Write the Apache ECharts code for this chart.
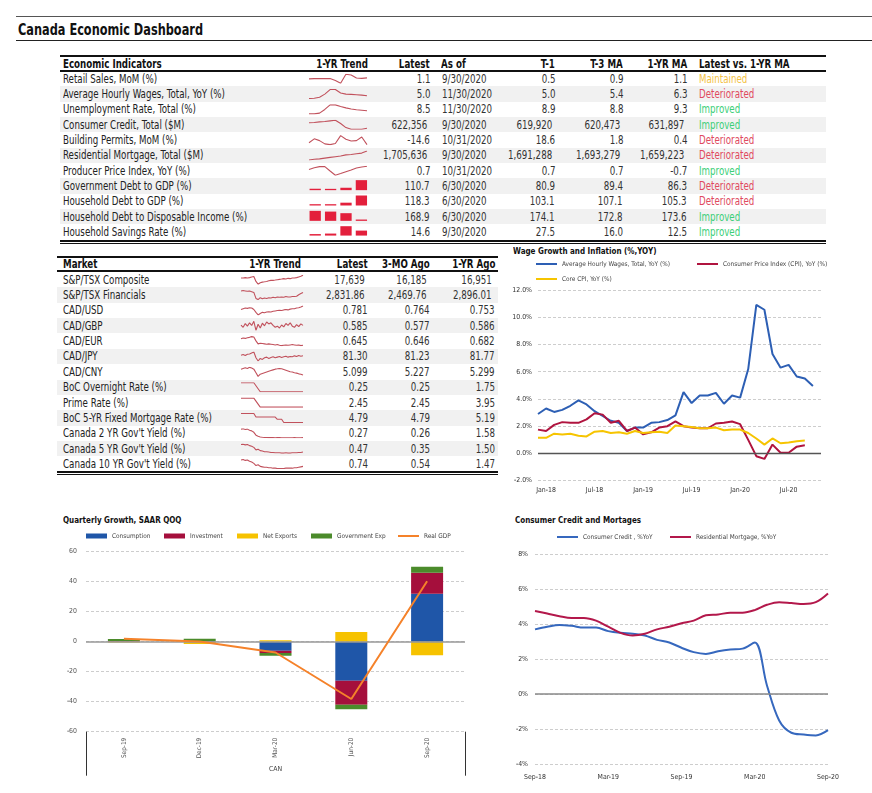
<!DOCTYPE html>
<html><head><meta charset="utf-8">
<script src="https://cdn.jsdelivr.net/npm/echarts/dist/echarts.min.js"></script>
<style>
html,body{margin:0;padding:0;background:#fff;}
#page{position:relative;width:872px;height:793px;overflow:hidden;background:#fff;}
.t{position:absolute;white-space:nowrap;}
.ln{position:absolute;}
#chart{position:absolute;left:0;top:0;width:872px;height:793px;z-index:2;}
</style></head><body><div id="page"><div id="chart"></div></div>
<script>
// ---------------- DATA ----------------
const econLabels = ['Retail Sales, MoM (%)','Average Hourly Wages, Total, YoY (%)','Unemployment Rate, Total (%)','Consumer Credit, Total ($M)','Building Permits, MoM (%)','Residential Mortgage, Total ($M)','Producer Price Index, YoY (%)','Government Debt to GDP (%)','Household Debt to GDP (%)','Household Debt to Disposable Income (%)','Household Savings Rate (%)'];
const econLatest = [1.1,5.0,8.5,622356,-14.6,1705636,0.7,110.7,118.3,168.9,14.6];
const econAsOf = ['9/30/2020','11/30/2020','11/30/2020','9/30/2020','10/31/2020','9/30/2020','10/31/2020','6/30/2020','6/30/2020','6/30/2020','9/30/2020'];
const econT1 = [0.5,5.0,8.9,619920,18.6,1691288,0.7,80.9,103.1,174.1,27.5];
const econT3 = [0.9,5.4,8.8,620473,1.8,1693279,0.7,89.4,107.1,172.8,16.0];
const econ1Y = [1.1,6.3,9.3,631897,0.4,1659223,-0.7,86.3,105.3,173.6,12.5];
const econStatus = ['Maintained','Deteriorated','Improved','Improved','Deteriorated','Deteriorated','Improved','Deteriorated','Deteriorated','Improved','Improved'];
const econDecimals = [1,1,1,0,1,0,1,1,1,1,1];

const sparkRetail   = [0.0,0.3,0.3,0.3,0.3,-1.6,-4.5,4.9,4.0,0.9,0.5,1.1];
const sparkWages    = [2.4,2.7,3.7,6.6,10.9,10.9,7.6,6.6,6.3,6.0,5.6,5.0];
const sparkUnemp    = [5.6,5.6,6.3,9.6,13.7,13.7,12.3,11.0,10.0,9.3,8.9,8.5];
const sparkCredit   = [635700,636500,638000,638900,640500,642000,634100,624000,620000,619900,619920,622356];
const sparkPermits  = [-6.7,10.7,2.8,-11.4,-14.6,-9.9,24.9,9.1,1.2,2.8,18.6,-14.6];
const sparkMortgage = [1646000,1650800,1653200,1658000,1662800,1667600,1672300,1679500,1681900,1686700,1691288,1705636];
const sparkPPI      = [-1.3,-0.2,0.5,0.5,-2.3,-5.0,-3.9,-2.7,-1.6,-0.4,0.3,0.7];
const barsGovDebt   = [77.0,76.6,80.9,110.7];
const barsHHDebtGDP = [99.9,99.9,103.1,118.3];
const barsHHDebtInc = [176.0,175.4,174.1,168.9];
const barsSavings   = [2.0,5.9,27.5,14.6];

const mktLabels = ['S&P/TSX Composite','S&P/TSX Financials','CAD/USD','CAD/GBP','CAD/EUR','CAD/JPY','CAD/CNY','BoC Overnight Rate (%)','Prime Rate (%)','BoC 5-YR Fixed Mortgage Rate (%)',"Canada 2 YR Gov't Yield (%)","Canada 5 YR Gov't Yield (%)","Canada 10 YR Gov't Yield (%)"];
const mktLatest = [17639,2831.86,0.781,0.585,0.645,81.30,5.099,0.25,2.45,4.79,0.27,0.47,0.74];
const mkt3M     = [16185,2469.76,0.764,0.577,0.646,81.23,5.227,0.25,2.45,4.79,0.26,0.35,0.54];
const mkt1Y     = [16951,2896.01,0.753,0.586,0.682,81.77,5.299,1.75,3.95,5.19,1.58,1.50,1.47];
const mktDecimals = [0,2,3,3,3,2,3,2,2,2,2,2,2];

const sparkTSX = [16950,16950,17040,16950,17040,17210,17300,16090,15400,15750,15920,16000,16090,16260,16350,16350,16430,16520,16610,16690,16780,16690,16860,16780,16950,16950,17040,17210,17380,17640];
const sparkFin = [2896,2912,2896,2880,2896,2864,2832,2576,2528,2608,2560,2592,2576,2608,2592,2624,2608,2640,2624,2640,2624,2656,2640,2640,2656,2656,2672,2736,2784,2832];
const sparkUSD = [0.753,0.759,0.765,0.762,0.767,0.765,0.753,0.731,0.711,0.722,0.731,0.728,0.734,0.736,0.734,0.739,0.742,0.745,0.747,0.745,0.750,0.753,0.750,0.756,0.759,0.759,0.765,0.767,0.773,0.781];
const sparkGBP = [0.586,0.580,0.590,0.583,0.592,0.585,0.596,0.572,0.588,0.578,0.591,0.584,0.594,0.589,0.592,0.585,0.580,0.583,0.578,0.586,0.581,0.590,0.585,0.592,0.583,0.580,0.587,0.582,0.589,0.585];
const sparkEUR = [0.682,0.686,0.684,0.688,0.690,0.694,0.692,0.670,0.653,0.657,0.655,0.653,0.651,0.653,0.651,0.649,0.647,0.649,0.645,0.643,0.645,0.647,0.645,0.647,0.649,0.647,0.645,0.647,0.643,0.645];
const sparkJPY = [81.77,82.37,81.47,82.67,82.97,83.87,84.77,79.37,76.37,78.77,77.87,79.37,79.97,78.77,79.67,80.27,79.37,79.97,80.57,79.67,80.27,80.87,79.97,80.57,80.27,81.17,80.57,81.47,80.87,81.30];
const sparkCNY = [5.299,5.324,5.349,5.324,5.361,5.336,5.299,5.174,5.049,5.124,5.149,5.174,5.199,5.224,5.249,5.274,5.299,5.311,5.324,5.311,5.286,5.261,5.236,5.211,5.199,5.174,5.161,5.136,5.124,5.099];
const sparkOvernight = [1.75,1.75,1.75,1.75,1.75,1.75,1.75,1.25,0.75,0.25,0.25,0.25,0.25,0.25,0.25,0.25,0.25,0.25,0.25,0.25,0.25,0.25,0.25,0.25,0.25,0.25,0.25,0.25,0.25,0.25];
const sparkPrime = [3.95,3.95,3.95,3.95,3.95,3.95,3.95,3.45,2.95,2.45,2.45,2.45,2.45,2.45,2.45,2.45,2.45,2.45,2.45,2.45,2.45,2.45,2.45,2.45,2.45,2.45,2.45,2.45,2.45,2.45];
const sparkMortRate = [5.19,5.19,5.19,5.19,5.19,5.19,5.19,5.03,5.03,5.03,5.03,5.03,5.03,5.03,5.03,5.03,5.03,4.93,4.93,4.93,4.79,4.79,4.79,4.79,4.79,4.79,4.79,4.79,4.79,4.79];
const spark2Y = [1.58,1.63,1.53,1.58,1.42,1.31,1.09,0.65,0.49,0.38,0.33,0.29,0.30,0.28,0.27,0.28,0.26,0.27,0.27,0.26,0.25,0.26,0.26,0.25,0.26,0.27,0.26,0.26,0.26,0.27];
const spark5Y = [1.50,1.55,1.45,1.50,1.35,1.26,1.11,0.77,0.86,0.67,0.62,0.52,0.52,0.47,0.42,0.42,0.37,0.37,0.37,0.32,0.32,0.37,0.32,0.32,0.37,0.37,0.37,0.42,0.42,0.47];
const spark10Y = [1.47,1.52,1.42,1.47,1.32,1.23,1.08,0.84,0.93,0.74,0.69,0.64,0.64,0.59,0.59,0.54,0.54,0.50,0.50,0.50,0.50,0.54,0.54,0.54,0.54,0.59,0.59,0.64,0.69,0.74];

const wageMonths = ['Jan-18','Feb-18','Mar-18','Apr-18','May-18','Jun-18','Jul-18','Aug-18','Sep-18','Oct-18','Nov-18','Dec-18','Jan-19','Feb-19','Mar-19','Apr-19','May-19','Jun-19','Jul-19','Aug-19','Sep-19','Oct-19','Nov-19','Dec-19','Jan-20','Feb-20','Mar-20','Apr-20','May-20','Jun-20','Jul-20','Aug-20','Sep-20','Oct-20','Nov-20','Dec-20'];
const wagesYoY = [2.9,3.3,3.05,3.2,3.5,3.9,3.6,3.1,2.75,2.4,2.25,1.65,1.9,1.9,2.25,2.3,2.45,2.8,4.5,3.7,4.25,4.25,4.45,3.65,4.25,4.1,6.2,10.9,10.55,7.3,6.3,6.5,5.65,5.5,4.95];
const cpiYoY = [1.75,1.65,2.1,2.3,2.25,2.25,2.5,2.95,2.85,2.25,2.4,1.65,1.9,1.4,1.55,1.9,2.0,2.35,2.0,1.9,1.85,1.85,2.2,2.25,2.35,2.15,1.0,-0.2,-0.4,0.65,0.05,0.05,0.5,0.6];
const coreCpiYoY = [1.15,1.15,1.45,1.4,1.45,1.3,1.25,1.6,1.65,1.5,1.55,1.45,1.65,1.5,1.55,1.6,1.5,2.05,2.0,1.95,1.85,1.85,1.9,1.7,1.75,1.75,1.5,1.1,0.65,1.1,0.75,0.8,0.9,0.95];

const qtrCats = ['Sep-19','Dec-19','Mar-20','Jun-20','Sep-20'];
const consumption = [0.2,0.3,-6.0,-26.0,32.0];
const investment = [0.3,0.2,-1.5,-16.0,14.0];
const netExports = [-0.5,-1.6,0.9,6.5,-9.0];
const govExp = [1.3,1.4,-1.8,-3.0,4.0];
const realGDP = [2.0,0.2,-7.2,-38.2,40.3];

const ccMonths = ['Sep-18','Oct-18','Nov-18','Dec-18','Jan-19','Feb-19','Mar-19','Apr-19','May-19','Jun-19','Jul-19','Aug-19','Sep-19','Oct-19','Nov-19','Dec-19','Jan-20','Feb-20','Mar-20','Apr-20','May-20','Jun-20','Jul-20','Aug-20','Sep-20'];
const consumerCredit = [3.7,3.85,3.95,3.9,3.8,3.8,3.6,3.5,3.45,3.35,3.1,2.95,2.65,2.4,2.3,2.45,2.55,2.6,2.95,0.5,-1.5,-2.2,-2.3,-2.35,-2.05];
const resMortgage = [4.75,4.6,4.45,4.35,4.35,4.2,3.85,3.5,3.35,3.45,3.7,3.85,4.05,4.2,4.5,4.55,4.65,4.65,4.8,5.1,5.25,5.2,5.15,5.25,5.75];

// ---------------- FONTS ----------------
function hasFont(n){const c=document.createElement('canvas').getContext('2d');const s='mmmmmmmmmmlliWWabc0123456789';c.font='40px monospace';const a=c.measureText(s).width;c.font='40px "'+n+'", monospace';const b=c.measureText(s).width;return a!==b;}
let FONT='"Liberation Sans Narrow"', SQ=1;
if(!hasFont('Liberation Sans Narrow')){
  if(hasFont('DejaVu Sans Condensed')){FONT='"DejaVu Sans Condensed"';SQ=0.84;}
  else {FONT='"Liberation Sans"';SQ=0.82;}
}
const CF = SQ<1 ? 0.92 : 1;   // chart text size factor for wider fallback fonts
const page=document.getElementById('page');
function txt(s,x,cy,o){
  o=o||{};
  const d=document.createElement('div');d.className='t';d.textContent=s;
  const fs=o.size||11.5, lh=o.lh||16;
  d.style.fontFamily=FONT;d.style.fontSize=fs+'px';d.style.lineHeight=lh+'px';d.style.top=(cy-lh/2)+'px';
  d.style.color=o.color||'#222';if(o.bold)d.style.fontWeight='bold';
  const al=o.align||'left';let tf='';
  if(al==='left'){d.style.left=x+'px';d.style.transformOrigin='left center';}
  else if(al==='right'){d.style.right=(872-x)+'px';d.style.transformOrigin='right center';if(o.padR)d.style.paddingRight=o.padR+'px';}
  else {d.style.left=x+'px';tf='translateX(-50%) ';d.style.transformOrigin='center center';}
  if(SQ!==1)tf+='scaleX('+SQ+')';
  if(tf)d.style.transform=tf;
  page.appendChild(d);
}
function box(x1,x2,y,h,color){const d=document.createElement('div');d.className='ln';d.style.left=x1+'px';d.style.width=(x2-x1)+'px';d.style.top=y+'px';d.style.height=h+'px';d.style.background=color;page.appendChild(d);}
function fmt(v,d){return v.toLocaleString('en-US',{minimumFractionDigits:d,maximumFractionDigits:d});}
function numCell(v,d,x,cy){const s=fmt(v,d);txt(s,x,cy,{align:'right',color:'#333',padR:s.indexOf(',')>=0?3.5:0});}

// page title and rules
box(16,872,16,1,'#555');
txt('Canada Economic Dashboard',18,30,{size:15,bold:true,color:'#111',lh:20});
box(16,872,40,1.3,'#222');

// chart titles
txt('Wage Growth and Inflation (%,YOY)',513,251,{size:9.5,bold:true,color:'#111',lh:12});
txt('Quarterly Growth, SAAR QOQ',63,520,{size:9.5,bold:true,color:'#111',lh:12});
txt('Consumer Credit and Mortages',515,520,{size:9.5,bold:true,color:'#111',lh:12});

// ---------------- ECONOMIC TABLE ----------------
const eTop=71, eRow=15.35;
for(let i=0;i<econLabels.length;i++){ if(i%2===1) box(60,826,eTop+i*eRow,eRow,'#f1f1f1'); }
box(60,826,54.5,2,'#111');
box(60,826,70.3,1.4,'#111');
box(60,826,239.6,2,'#111');
box(60,826,242.6,1,'#111');
const eh=63.5;
txt('Economic Indicators',63,eh,{bold:true,color:'#111'});
txt('1-YR Trend',341.5,eh,{bold:true,align:'center',color:'#111'});
txt('Latest',430,eh,{bold:true,align:'right',color:'#111'});
txt('As of',441,eh,{bold:true,color:'#111'});
txt('T-1',555,eh,{bold:true,align:'right',color:'#111'});
txt('T-3 MA',623,eh,{bold:true,align:'right',color:'#111'});
txt('1-YR MA',687,eh,{bold:true,align:'right',color:'#111'});
txt('Latest vs. 1-YR MA',699,eh,{bold:true,color:'#111'});
const statusColor={Maintained:'#f4c244',Deteriorated:'#e04a5e',Improved:'#3ccf78'};
for(let i=0;i<econLabels.length;i++){
  const cy=eTop+i*eRow+eRow/2;
  txt(econLabels[i],63,cy);
  numCell(econLatest[i],econDecimals[i],430,cy);
  txt(econAsOf[i],442,cy,{color:'#333'});
  numCell(econT1[i],econDecimals[i],555,cy);
  numCell(econT3[i],econDecimals[i],623,cy);
  numCell(econ1Y[i],econDecimals[i],687,cy);
  txt(econStatus[i],699,cy,{color:statusColor[econStatus[i]]});
}

// ---------------- MARKET TABLE ----------------
const mTop=272, mRow=15.36;
for(let i=0;i<mktLabels.length;i++){ if(i%2===1) box(57,498,mTop+i*mRow,mRow,'#f1f1f1'); }
box(57,498,255.5,2,'#111');
box(57,498,270.4,1.4,'#111');
box(57,498,470.8,2,'#111');
box(57,498,473.8,1,'#111');
const mh=264.3;
txt('Market',63,mh,{bold:true,color:'#111'});
txt('1-YR Trend',275,mh,{bold:true,align:'center',color:'#111'});
txt('Latest',368,mh,{bold:true,align:'right',color:'#111'});
txt('3-MO Ago',430,mh,{bold:true,align:'right',color:'#111'});
txt('1-YR Ago',495,mh,{bold:true,align:'right',color:'#111'});
for(let i=0;i<mktLabels.length;i++){
  const cy=mTop+i*mRow+mRow/2;
  txt(mktLabels[i],63,cy);
  numCell(mktLatest[i],mktDecimals[i],368,cy);
  numCell(mkt3M[i],mktDecimals[i],430,cy);
  numCell(mkt1Y[i],mktDecimals[i],495,cy);
}

// ---------------- CHARTS ----------------
const grid=[],xAxis=[],yAxis=[],series=[],legend=[];
const TS={fontFamily:FONT};
const AX=7.5*CF, LG=7*CF;
const dash={type:[3,2],color:'#cdcdcd',width:1};
function zeroLine(color,w){return {silent:true,symbol:'none',label:{show:false},lineStyle:{color:color,width:w,type:'solid'},data:[{yAxis:0}],animation:false};}
function lg(name,left,top,ih){legend.push({data:[name],left:left,top:top,icon:'rect',itemWidth:21,itemHeight:ih,itemGap:0,padding:0,selectedMode:false,textStyle:{fontSize:LG,color:'#444',fontFamily:FONT}});}

// Wage growth & inflation (grid 0, xAxis 0, yAxis 0)
grid.push({left:538,top:290,width:283,height:190.7});
xAxis.push({gridIndex:0,type:'category',data:wageMonths,boundaryGap:false,axisLine:{show:false},axisTick:{show:false},splitLine:{show:false},axisLabel:{interval:5,fontSize:AX,color:'#333',margin:6,fontFamily:FONT,padding:[0,0,0,16]}});
yAxis.push({gridIndex:0,type:'value',min:-2,max:12,interval:2,axisLine:{show:false},axisTick:{show:false},splitLine:{lineStyle:dash},axisLabel:{formatter:v=>v.toFixed(1)+'%',fontSize:AX,color:'#333',margin:6,fontFamily:FONT}});
series.push({name:'Average Hourly Wages, Total, YoY (%)',type:'line',xAxisIndex:0,yAxisIndex:0,data:wagesYoY,showSymbol:false,lineStyle:{width:2,color:'#2d5fb4'},itemStyle:{color:'#2d5fb4'},markLine:zeroLine('#555',1.3)});
series.push({name:'Consumer Price Index (CPI), YoY (%)',type:'line',xAxisIndex:0,yAxisIndex:0,data:cpiYoY,showSymbol:false,lineStyle:{width:2,color:'#b0143f'},itemStyle:{color:'#b0143f'}});
series.push({name:'Core CPI, YoY (%)',type:'line',xAxisIndex:0,yAxisIndex:0,data:coreCpiYoY,showSymbol:false,lineStyle:{width:2,color:'#f6c400'},itemStyle:{color:'#f6c400'}});
lg('Average Hourly Wages, Total, YoY (%)',536,261,2);
lg('Consumer Price Index (CPI), YoY (%)',697,261,2);
lg('Core CPI, YoY (%)',536,276,2);

// Quarterly growth (grid 1, xAxis 1 = quarters, xAxis 2 = 'CAN', yAxis 1)
grid.push({left:86,top:551.7,width:379,height:180});
xAxis.push({gridIndex:1,type:'category',data:qtrCats,axisLine:{show:false},axisTick:{show:false},axisLabel:{rotate:90,fontSize:7*CF,color:'#555',margin:6,fontFamily:FONT}});
xAxis.push({gridIndex:1,type:'category',data:['CAN'],position:'bottom',axisLine:{show:false},axisTick:{show:true,length:44,lineStyle:{color:'#333',width:1}},axisLabel:{margin:34,fontSize:AX,color:'#444',fontFamily:FONT}});
yAxis.push({gridIndex:1,type:'value',min:-60,max:60,interval:20,axisLine:{show:false},axisTick:{show:false},splitLine:{lineStyle:dash},axisLabel:{fontSize:AX,color:'#555',margin:9,fontFamily:FONT}});
const qStack=[['Consumption',consumption,'#1f56a8'],['Investment',investment,'#a50f3c'],['Net Exports',netExports,'#f6c200'],['Government Exp',govExp,'#4b8b2b']];
qStack.forEach((q,k)=>{
  series.push({name:q[0],type:'bar',stack:'q',xAxisIndex:1,yAxisIndex:1,data:q[1],barWidth:32,itemStyle:{color:q[2]},markLine:k===0?zeroLine('#999',1.5):undefined});
});
series.push({name:'Real GDP',type:'line',xAxisIndex:1,yAxisIndex:1,data:realGDP,showSymbol:false,lineStyle:{width:2,color:'#f5822a'},itemStyle:{color:'#f5822a'},z:5});
lg('Consumption',86,533,5);
lg('Investment',164,533,5);
lg('Net Exports',237,533,5);
lg('Government Exp',311,533,5);
lg('Real GDP',398,533,2);

// Consumer credit & mortgages (grid 2, xAxis 3, yAxis 2)
grid.push({left:535,top:554,width:293,height:210.3});
xAxis.push({gridIndex:2,type:'category',data:ccMonths,boundaryGap:false,axisLine:{show:false},axisTick:{show:false},splitLine:{show:false},axisLabel:{interval:5,fontSize:AX,color:'#333',margin:9,fontFamily:FONT}});
yAxis.push({gridIndex:2,type:'value',min:-4,max:8,interval:2,axisLine:{show:false},axisTick:{show:false},splitLine:{lineStyle:dash},axisLabel:{formatter:v=>v+'%',fontSize:AX,color:'#333',margin:7,fontFamily:FONT}});
series.push({name:'Consumer Credit , %YoY',type:'line',xAxisIndex:3,yAxisIndex:2,data:consumerCredit,smooth:0.35,showSymbol:false,lineStyle:{width:2,color:'#3668be'},itemStyle:{color:'#3668be'},markLine:zeroLine('#888',1.5)});
series.push({name:'Residential Mortgage, %YoY',type:'line',xAxisIndex:3,yAxisIndex:2,data:resMortgage,smooth:0.35,showSymbol:false,lineStyle:{width:2,color:'#b3184b'},itemStyle:{color:'#b3184b'}});
lg('Consumer Credit , %YoY',557,534,2);
lg('Residential Mortgage, %YoY',670,534,2);

// Sparklines
function addSpark(data,left,top,width,height,kind){
  const gi=grid.length;
  grid.push({left:left,top:top,width:width,height:height});
  const xi=xAxis.length, yi=yAxis.length;
  xAxis.push({gridIndex:gi,type:'category',show:false,boundaryGap:kind==='bar',data:data.map((_,k)=>k)});
  if(kind==='bar'){
    yAxis.push({gridIndex:gi,type:'value',show:false,min:v=>v.min-(v.max-v.min)*0.15,max:'dataMax'});
    series.push({type:'bar',xAxisIndex:xi,yAxisIndex:yi,data:data,barWidth:11.3,barMinHeight:1.5,clip:true,itemStyle:{color:'#e3203c'},silent:true});
  } else {
    yAxis.push({gridIndex:gi,type:'value',show:false,min:'dataMin',max:'dataMax'});
    series.push({type:'line',xAxisIndex:xi,yAxisIndex:yi,data:data,showSymbol:false,lineStyle:{width:1.1,color:'#c1515c'},silent:true});
  }
}
const econTrends=[sparkRetail,sparkWages,sparkUnemp,sparkCredit,sparkPermits,sparkMortgage,sparkPPI,barsGovDebt,barsHHDebtGDP,barsHHDebtInc,barsSavings];
econTrends.forEach((d,i)=>{
  const rt=eTop+i*eRow;
  if(i>=7) addSpark(d,307.5,rt+1.7,61.6,10,'bar');
  else addSpark(d,309,rt+3.2,58,9,'line');
});
const mktTrends=[sparkTSX,sparkFin,sparkUSD,sparkGBP,sparkEUR,sparkJPY,sparkCNY,sparkOvernight,sparkPrime,sparkMortRate,spark2Y,spark5Y,spark10Y];
mktTrends.forEach((d,i)=>{ addSpark(d,241,mTop+i*mRow+3.2,62,9,'line'); });

const chart=echarts.init(document.getElementById('chart'),null,{renderer:'canvas',width:872,height:793});
chart.setOption({backgroundColor:'transparent',animation:false,textStyle:TS,legend:legend,grid:grid,xAxis:xAxis,yAxis:yAxis,series:series,tooltip:{show:false}});
</script></body></html>
